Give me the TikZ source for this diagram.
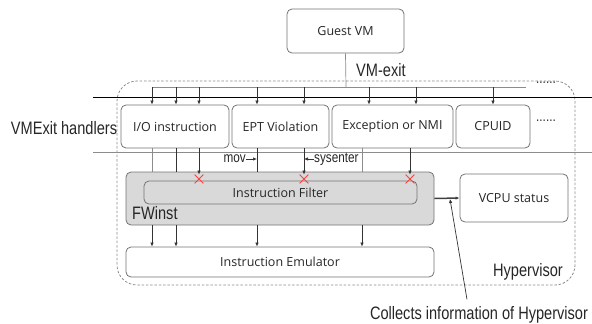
\documentclass[tikz,border=0pt]{standalone}
\usepackage{fontspec}
\setmainfont{Open Sans}
\newfontfamily\narrowsf[FakeStretch=0.81]{Liberation Sans}
\usetikzlibrary{arrows.meta,positioning,shapes.misc}

\begin{document}
\begin{tikzpicture}
  [x=1pt,y=-1pt,>={Latex[length=4pt,width=3.4pt]},
   box/.style={rectangle,rounded corners=5pt,draw=black!55,thick,fill=white,
     inner sep=0pt,font=\fontsize{12.5}{14}\selectfont,text=black!85},
   handler/.style={box,minimum height=43pt},
   graybox/.style={box,fill=black!15},
   bigtext/.style={font=\narrowsf\fontsize{18}{20}\selectfont,text=black!85,inner sep=0pt},
   smalltext/.style={font=\narrowsf\fontsize{14.5}{16}\selectfont,text=black!85,inner sep=0pt},
   link/.style={black!80,line width=0.7pt},
   graylink/.style={black!45,line width=0.7pt},
   drop/.style={link,->},
   block/.style={cross out,draw=red!75,line width=0.8pt,minimum size=8pt,inner sep=0pt}]

  \useasboundingbox (0,0) rectangle (592,324);

  % hypervisor area
  \node (hyp) [rectangle,draw=black!45,dash pattern=on 2.5pt off 1.8pt,line width=0.8pt,
    rounded corners=20pt,minimum width=458pt,minimum height=204pt] at (346,183) {};

  % layer rules
  \draw [black,line width=0.9pt] (93,97) -- (592,97);
  \draw [black!45,line width=0.9pt] (93,152) -- (592,152);

  % guest and vm-exit bus
  \node [box,minimum width=117pt,minimum height=44pt] (guest) at (345.5,31) {Guest VM};
  \coordinate (bus) at (346,87);
  \coordinate (busL) at (152,87);
  \coordinate (busR) at (526,87);
  \draw [graylink] (guest.south) -- (bus);
  \draw [graylink] (busL) -- (busR);
  \node [smalltext] (busdots) at (546,83) {......};
  \node [bigtext,anchor=west] (vmexit) at (356,70) {VM-exit};

  % handlers
  \node [bigtext] (vmh) at (64,128) {VMExit handlers};
  \node [handler,minimum width=108pt] (io)    at (175,126.5)   {I/O instruction};
  \node [handler,minimum width=97pt]  (ept)   at (280.5,126.5) {EPT Violation};
  \node [handler,minimum width=121pt] (exc)   at (392.5,126.5) {Exception or NMI};
  \node [handler,minimum width=74pt]  (cpuid) at (493,126.5)   {CPUID};
  \node [smalltext] (hdots) at (546,121) {......};

  \foreach \x in {152,176,199,257,304,369,416,493}
    \draw [drop] (\x,0 |- bus) -- (\x,0 |- io.north);

  % FWinst
  \node [graybox,minimum width=308pt,minimum height=53pt] (fw) at (280,198.5) {};
  \node [graybox,minimum width=273pt,minimum height=23pt] (filter) at (280.5,192.5) {Instruction Filter};
  \node [bigtext,anchor=west] (fwname) at (132,213) {FWinst};
  \node [block] (x1) at (199,179) {};
  \node [block] (x2) at (304,179) {};
  \node [block] (x3) at (410,179) {};

  % emulator and vcpu
  \node [box,minimum width=308pt,minimum height=30pt] (emu) at (280,262) {Instruction Emulator};
  \node [box,minimum width=108pt,minimum height=48pt] (vcpu) at (514,198) {VCPU status};

  % handler outputs
  \draw [graylink] (152,0 |- io.south) -- (152,0 |- fw.north);
  \draw [link]     (176,0 |- io.south) -- (176,0 |- fw.north);
  \draw [drop]     (199,0 |- io.south) -- (x1.north);
  \draw [link]     (257,0 |- ept.south) -- (257,0 |- fw.north);
  \draw [drop]     (304,0 |- ept.south) -- (x2.north);
  \draw [graylink] (362,0 |- exc.south) -- (362,0 |- fw.north);
  \draw [drop]     (410,0 |- exc.south) -- (x3.north);

  \foreach \x in {152,176,257,362}
    \draw [drop] (\x,0 |- fw.south) -- (\x,0 |- emu.north);

  % mov / sysenter
  \node [smalltext,anchor=east] (mov) at (246,159) {mov};
  \node [smalltext,anchor=west] (sys) at (314,159) {sysenter};
  \draw [link,->] (mov.east) -- (257,0 |- mov.east);
  \draw [link,->] (sys.west) -- (304,0 |- sys.west);

  % status collection
  \draw [->,black!75,line width=1.5pt] (fw.east) -- (vcpu.west);
  \node [bigtext,anchor=east] (hv) at (563,272) {Hypervisor};
  \node [bigtext] (collect) at (479,315) {Collects information of Hypervisor};
  \coordinate (hit) at (450,199);
  \draw [link,->] (collect.north) ++(-12,-7) -- (hit);
\end{tikzpicture}
\end{document}
